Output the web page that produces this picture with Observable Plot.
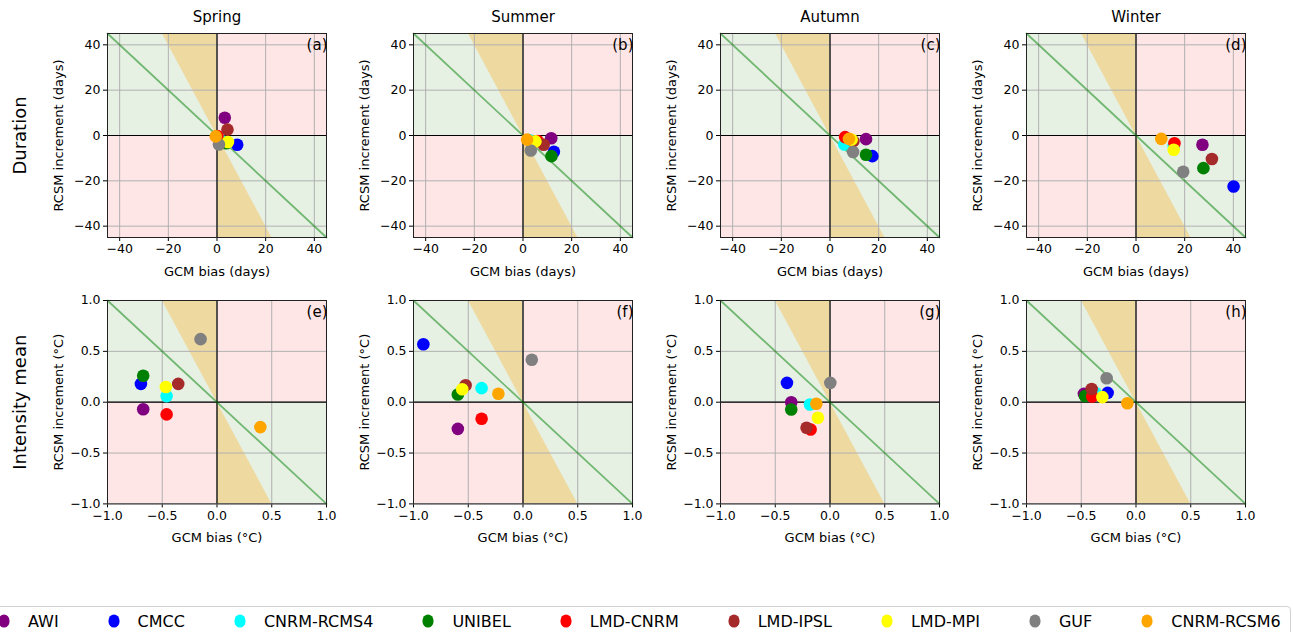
<!DOCTYPE html>
<html>
<head>
<meta charset="utf-8">
<script src="https://cdn.jsdelivr.net/npm/d3@7"></script>
<script src="https://cdn.jsdelivr.net/npm/@observablehq/plot@0.6"></script>
<style>
  html, body { margin: 0; padding: 0; background: white; }
  #fig { position: relative; width: 1293px; height: 632px; overflow: hidden; font-family: "DejaVu Sans", sans-serif; }
  #fig svg { position: absolute; overflow: visible; }
  #legend { position: absolute; left: -30px; top: 606px; width: 1321px; height: 60px; border: 1px solid #d3d3d3; border-radius: 4px; box-sizing: border-box; }
  #legend .items { position: absolute; left: 27px; top: 2px; display: flex; align-items: center; height: 24px; white-space: nowrap; width: max-content; }
  #legend .item { display: flex; align-items: center; flex-shrink: 0; margin-right: 49px; font-size: 16px; color: #000; white-space: nowrap; }
  #legend .item svg { position: static; margin-right: 18px; flex-shrink: 0; }
</style>
</head>
<body>
<div id="fig"><div id="legend"><div class="items"></div></div></div>
<script>
// ---------- data ----------
const models = ["AWI", "CMCC", "CNRM-RCMS4", "UNIBEL", "LMD-CNRM", "LMD-IPSL", "LMD-MPI", "GUF", "CNRM-RCSM6"];
const modelColors = ["purple", "blue", "cyan", "green", "red", "brown", "yellow", "gray", "orange"];
const seasons = ["Spring", "Summer", "Autumn", "Winter"];
const rowNames = ["Duration", "Intensity mean"];
const panelLetters = [["(a)", "(b)", "(c)", "(d)"], ["(e)", "(f)", "(g)", "(h)"]];
const xLabels = ["GCM bias (days)", "GCM bias (°C)"];
const yLabels = ["RCSM increment (days)", "RCSM increment (°C)"];
const ticksDuration = [-40, -20, 0, 20, 40];
const ticksIntensity = [-1.0, -0.5, 0.0, 0.5, 1.0];
const limDuration = 45;
const limIntensity = 1.0;

// Duration: GCM bias (x) and RCSM increment (y), per season, model order as above
const durSpringBias = [3.2, 8.3, 1.6, 3.8, 0.2, 4.3, 4.5, 0.8, -0.5];
const durSpringInc  = [7.8, -4.1, -2.2, -3.4, -0.2, 2.6, -2.9, -4.0, -0.4];
const durSummerBias = [11.6, 12.7, 2.5, 11.7, 6.0, 8.5, 5.1, 3.2, 1.7];
const durSummerInc  = [-1.2, -7.2, -2.0, -9.1, -2.4, -4.1, -2.6, -6.6, -1.8];
const durAutumnBias = [14.8, 17.4, 5.9, 14.8, 6.2, 9.6, 8.9, 9.5, 7.8];
const durAutumnInc  = [-1.6, -9.1, -4.0, -8.5, -0.7, -2.5, -1.8, -7.3, -1.5];
const durWinterBias = [27.3, 40.1, 15.5, 27.7, 15.8, 31.2, 15.5, 19.4, 10.4];
const durWinterInc  = [-4.1, -22.5, -4.6, -14.4, -3.4, -10.4, -6.3, -16.0, -1.5];

// Intensity mean
const intSpringBias = [-0.674, -0.695, -0.46, -0.674, -0.46, -0.354, -0.467, -0.15, 0.396];
const intSpringInc  = [-0.07, 0.18, 0.06, 0.26, -0.12, 0.18, 0.15, 0.62, -0.245];
const intSummerBias = [-0.595, -0.91, -0.378, -0.595, -0.378, -0.524, -0.555, 0.08, -0.225];
const intSummerInc  = [-0.262, 0.57, 0.138, 0.076, -0.163, 0.167, 0.128, 0.417, 0.083];
const intAutumnBias = [-0.354, -0.393, -0.183, -0.354, -0.177, -0.214, -0.11, 0.003, -0.125];
const intAutumnInc  = [0.0, 0.19, -0.023, -0.072, -0.268, -0.252, -0.153, 0.19, -0.016];
const intWinterBias = [-0.476, -0.259, -0.37, -0.466, -0.40, -0.405, -0.307, -0.268, -0.079];
const intWinterInc  = [0.082, 0.092, 0.09, 0.06, 0.056, 0.13, 0.05, 0.236, -0.01];

const panelData = [
  [[durSpringBias, durSpringInc], [durSummerBias, durSummerInc], [durAutumnBias, durAutumnInc], [durWinterBias, durWinterInc]],
  [[intSpringBias, intSpringInc], [intSummerBias, intSummerInc], [intAutumnBias, intAutumnInc], [intWinterBias, intWinterInc]]
];

// ---------- layout ----------
const colLeft = [107, 413, 719.5, 1026];
const rowTop = [33, 300];
const areaW = 219;
const areaH = [204, 203.4];

const pink = "#ffe6e6", greenBg = "#e6f1e4", tan = "#eed9a0";
const minus = s => s.replace("-", "\u2212");

const fig = document.getElementById("fig");

for (let r = 0; r < 2; r++) {
  const L = r === 0 ? limDuration : limIntensity;
  const ticks = r === 0 ? ticksDuration : ticksIntensity;
  const fmt = r === 0 ? (d => minus(String(d))) : (d => minus(d.toFixed(1)));
  for (let c = 0; c < 4; c++) {
    const [bx, by] = panelData[r][c];
    const pts = models.map((m, i) => ({model: m, color: modelColors[i], x: bx[i], y: by[i]}));
    const quads = [
      {x1: 0, x2: L, y1: 0, y2: L, f: pink},
      {x1: -L, x2: 0, y1: -L, y2: 0, f: pink},
      {x1: -L, x2: 0, y1: 0, y2: L, f: greenBg},
      {x1: 0, x2: L, y1: -L, y2: 0, f: greenBg}
    ];
    const tanUp = [{y: 0, x1: 0, x2: 0}, {y: L, x1: -L / 2, x2: 0}];
    const tanDown = [{y: 0, x1: 0, x2: 0}, {y: -L, x1: L / 2, x2: 0}];
    const mL = c === 0 ? 100 : 60, mR = 14, mT = r === 0 ? 32 : 14, mB = 48;
    const marks = [
      Plot.rect(quads, {x1: "x1", x2: "x2", y1: "y1", y2: "y2", fill: d => d.f}),
      Plot.areaX(tanUp, {y: "y", x1: "x1", x2: "x2", fill: tan}),
      Plot.areaX(tanDown, {y: "y", x1: "x1", x2: "x2", fill: tan}),
      Plot.ruleX(ticks, {stroke: "#b0b0b0", strokeWidth: 1}),
      Plot.ruleY(ticks, {stroke: "#b0b0b0", strokeWidth: 1}),
      Plot.ruleX([0], {stroke: "black", strokeWidth: 1.2}),
      Plot.ruleY([0], {stroke: "black", strokeWidth: 1.2}),
      Plot.line([[-L, L], [L, -L]], {stroke: "green", strokeOpacity: 0.5, strokeWidth: 1.8}),
      Plot.frame({stroke: "#222", strokeWidth: 1}),
      Plot.dot(pts, {x: "x", y: "y", fill: "color", r: 6.3}),
      Plot.text([panelLetters[r][c]], {text: d => d, frameAnchor: "top-right", dx: 1, dy: 12, textAnchor: "end", lineAnchor: "middle", fontSize: 15}),
      Plot.text([xLabels[r]], {text: d => d, frameAnchor: "bottom", dy: 34, textAnchor: "middle", lineAnchor: "middle", fontSize: 13}),
      Plot.text([yLabels[r]], {text: d => d, frameAnchor: "left", dx: -49, rotate: -90, textAnchor: "middle", lineAnchor: "middle", fontSize: 13})
    ];
    if (r === 0) marks.push(Plot.text([seasons[c]], {text: d => d, frameAnchor: "top", dy: -16, textAnchor: "middle", lineAnchor: "middle", fontSize: 15}));
    if (c === 0) marks.push(Plot.text([rowNames[r]], {text: d => d, frameAnchor: "left", dx: -87, rotate: -90, textAnchor: "middle", lineAnchor: "middle", fontSize: 18}));
    const chart = Plot.plot({
      width: areaW + mL + mR,
      height: areaH[r] + mT + mB,
      marginLeft: mL, marginRight: mR, marginTop: mT, marginBottom: mB,
      style: {background: "transparent", fontFamily: "DejaVu Sans", fontSize: "12.5px", color: "black", overflow: "visible"},
      x: {domain: [-L, L], ticks: ticks, tickFormat: fmt, tickSize: 4, tickPadding: 3, label: null},
      y: {domain: [-L, L], ticks: ticks, tickFormat: fmt, tickSize: 4, tickPadding: 3, label: null},
      color: {type: "identity"},
      marks
    });
    chart.style.left = (colLeft[c] - mL) + "px";
    chart.style.top = (rowTop[r] - mT) + "px";
    fig.appendChild(chart);
  }
}

// ---------- legend ----------
const items = document.querySelector("#legend .items");
models.forEach((m, i) => {
  const it = document.createElement("div");
  it.className = "item";
  it.innerHTML = `<svg width="12" height="14" viewBox="0 0 12 14"><ellipse cx="6" cy="7" rx="5.6" ry="6.6" fill="${modelColors[i]}"></ellipse></svg><span></span>`;
  it.querySelector("span").textContent = m;
  items.appendChild(it);
});
</script>
</body>
</html>
